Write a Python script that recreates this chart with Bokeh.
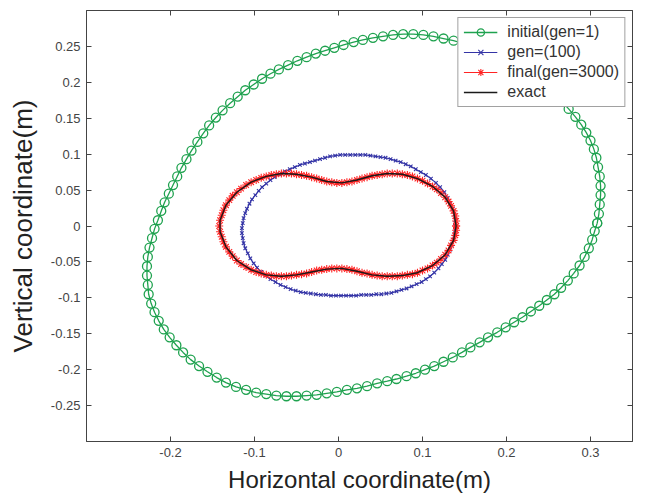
from bokeh.plotting import figure
from bokeh.models import Range1d, FixedTicker, LinearAxis, Legend, LegendItem, ColumnDataSource
from bokeh.embed import file_html
from bokeh.resources import INLINE

# ---------------- data ----------------
series_labels = ["initial(gen=1)", "gen=(100)", "final(gen=3000)", "exact"]
x_title = "Horizontal coordinate(m)"
y_title = "Vertical coordinate(m)"

x_limits = [-0.3, 0.35]
y_limits = [-0.3, 0.3]
x_ticks = [-0.2, -0.1, 0.0, 0.1, 0.2, 0.3]
x_tick_labels = ["-0.2", "-0.1", "0", "0.1", "0.2", "0.3"]
y_ticks = [0.25, 0.2, 0.15, 0.1, 0.05, 0.0, -0.05, -0.1, -0.15, -0.2, -0.25]
y_tick_labels = ["0.25", "0.2", "0.15", "0.1", "0.05", "0", "-0.05", "-0.1", "-0.15", "-0.2", "-0.25"]

initial_x = [0.308, 0.310, 0.311, 0.312, 0.312, 0.311, 0.309, 0.307, 0.304, 0.300,
             0.295, 0.289, 0.282, 0.274, 0.266, 0.257, 0.248, 0.238, 0.228, 0.217,
             0.206, 0.195, 0.184, 0.172, 0.161, 0.149, 0.137, 0.125, 0.113, 0.101,
             0.089, 0.077, 0.065, 0.053, 0.041, 0.029, 0.018, 0.006, -0.005, -0.016,
             -0.027, -0.038, -0.049, -0.060, -0.071, -0.081, -0.091, -0.101, -0.111, -0.120,
             -0.129, -0.138, -0.146, -0.154, -0.161, -0.168, -0.175, -0.181, -0.187, -0.192,
             -0.197, -0.202, -0.207, -0.211, -0.215, -0.219, -0.222, -0.225, -0.227, -0.228,
             -0.228, -0.227, -0.226, -0.223, -0.219, -0.214, -0.208, -0.201, -0.193, -0.185,
             -0.176, -0.166, -0.156, -0.145, -0.134, -0.122, -0.110, -0.098, -0.086, -0.074,
             -0.062, -0.050, -0.038, -0.026, -0.014, -0.002, 0.010, 0.022, 0.034, 0.046,
             0.058, 0.069, 0.081, 0.092, 0.103, 0.114, 0.125, 0.136, 0.147, 0.157,
             0.168, 0.178, 0.189, 0.199, 0.209, 0.219, 0.229, 0.239, 0.248, 0.257,
             0.265, 0.273, 0.280, 0.287, 0.293, 0.298, 0.302, 0.305, 0.308]
initial_y = [0.004, 0.017, 0.030, 0.043, 0.056, 0.069, 0.082, 0.095, 0.107, 0.119,
             0.130, 0.141, 0.152, 0.163, 0.173, 0.183, 0.192, 0.201, 0.209, 0.217,
             0.225, 0.232, 0.238, 0.244, 0.249, 0.254, 0.258, 0.261, 0.264, 0.266,
             0.267, 0.267, 0.266, 0.264, 0.262, 0.259, 0.256, 0.252, 0.248, 0.244,
             0.240, 0.235, 0.230, 0.224, 0.218, 0.212, 0.205, 0.197, 0.189, 0.180,
             0.171, 0.161, 0.151, 0.140, 0.129, 0.117, 0.105, 0.093, 0.081, 0.069,
             0.057, 0.045, 0.033, 0.021, 0.008, -0.004, -0.017, -0.030, -0.043, -0.056,
             -0.069, -0.082, -0.095, -0.108, -0.120, -0.132, -0.144, -0.155, -0.166, -0.176,
             -0.186, -0.195, -0.203, -0.211, -0.218, -0.224, -0.228, -0.232, -0.234, -0.236,
             -0.237, -0.237, -0.236, -0.235, -0.233, -0.231, -0.228, -0.226, -0.223, -0.219,
             -0.216, -0.213, -0.209, -0.205, -0.200, -0.195, -0.189, -0.183, -0.176, -0.169,
             -0.162, -0.155, -0.148, -0.141, -0.134, -0.127, -0.119, -0.111, -0.103, -0.095,
             -0.086, -0.076, -0.066, -0.055, -0.043, -0.031, -0.019, -0.007, 0.004]

gen100_x = [0.139, 0.139, 0.138, 0.136, 0.133, 0.130, 0.126, 0.121, 0.116, 0.110,
            0.104, 0.098, 0.092, 0.086, 0.080, 0.074, 0.068, 0.062, 0.056, 0.050,
            0.044, 0.038, 0.032, 0.026, 0.020, 0.014, 0.008, 0.002, -0.004, -0.010,
            -0.016, -0.022, -0.028, -0.034, -0.040, -0.046, -0.052, -0.058, -0.064, -0.070,
            -0.076, -0.081, -0.086, -0.091, -0.095, -0.099, -0.103, -0.106, -0.109, -0.111,
            -0.113, -0.114, -0.115, -0.115, -0.114, -0.113, -0.111, -0.108, -0.105, -0.101,
            -0.097, -0.092, -0.087, -0.081, -0.075, -0.069, -0.063, -0.057, -0.051, -0.045,
            -0.039, -0.033, -0.027, -0.021, -0.015, -0.009, -0.003, 0.003, 0.009, 0.015,
            0.021, 0.027, 0.033, 0.039, 0.045, 0.051, 0.057, 0.063, 0.069, 0.075,
            0.081, 0.087, 0.093, 0.099, 0.104, 0.109, 0.114, 0.119, 0.123, 0.127,
            0.130, 0.133, 0.135, 0.137, 0.138, 0.139, 0.139]
gen100_y = [0.000, 0.008, 0.016, 0.024, 0.032, 0.039, 0.047, 0.054, 0.060, 0.066,
            0.071, 0.075, 0.079, 0.083, 0.086, 0.089, 0.091, 0.093, 0.095, 0.096,
            0.097, 0.098, 0.099, 0.099, 0.099, 0.099, 0.099, 0.099, 0.098, 0.097,
            0.095, 0.093, 0.091, 0.089, 0.087, 0.085, 0.082, 0.079, 0.076, 0.072,
            0.068, 0.064, 0.059, 0.054, 0.049, 0.043, 0.037, 0.031, 0.024, 0.018,
            0.011, 0.004, -0.003, -0.010, -0.017, -0.024, -0.031, -0.038, -0.045, -0.052,
            -0.058, -0.064, -0.069, -0.074, -0.078, -0.082, -0.085, -0.088, -0.090, -0.092,
            -0.093, -0.094, -0.095, -0.096, -0.096, -0.097, -0.097, -0.097, -0.097, -0.097,
            -0.097, -0.096, -0.096, -0.096, -0.095, -0.095, -0.094, -0.093, -0.091, -0.089,
            -0.087, -0.084, -0.081, -0.078, -0.074, -0.070, -0.065, -0.059, -0.053, -0.047,
            -0.040, -0.033, -0.026, -0.019, -0.012, -0.006, 0.000]

final_x = [0.140, 0.140, 0.139, 0.137, 0.134, 0.131, 0.127, 0.122, 0.117, 0.112,
           0.106, 0.100, 0.094, 0.088, 0.082, 0.076, 0.070, 0.064, 0.058, 0.052,
           0.046, 0.040, 0.034, 0.028, 0.022, 0.016, 0.010, 0.004, -0.002, -0.008,
           -0.014, -0.020, -0.026, -0.032, -0.038, -0.044, -0.050, -0.056, -0.062, -0.068,
           -0.074, -0.080, -0.086, -0.092, -0.098, -0.104, -0.110, -0.116, -0.121, -0.126,
           -0.130, -0.134, -0.137, -0.139, -0.141, -0.142, -0.141, -0.139, -0.137, -0.134,
           -0.130, -0.126, -0.121, -0.116, -0.110, -0.104, -0.098, -0.092, -0.086, -0.080,
           -0.074, -0.068, -0.062, -0.056, -0.050, -0.044, -0.038, -0.032, -0.026, -0.020,
           -0.014, -0.008, -0.002, 0.004, 0.010, 0.016, 0.022, 0.028, 0.034, 0.040,
           0.046, 0.052, 0.058, 0.064, 0.070, 0.076, 0.082, 0.088, 0.094, 0.100,
           0.106, 0.112, 0.117, 0.122, 0.127, 0.131, 0.134, 0.137, 0.139, 0.140, 0.140]
final_y = [0.000, 0.007, 0.014, 0.021, 0.028, 0.034, 0.040, 0.046, 0.051, 0.055,
           0.059, 0.063, 0.066, 0.069, 0.071, 0.072, 0.073, 0.073, 0.073, 0.072,
           0.071, 0.070, 0.068, 0.066, 0.064, 0.062, 0.061, 0.060, 0.060, 0.061,
           0.062, 0.064, 0.066, 0.068, 0.070, 0.071, 0.072, 0.073, 0.073, 0.073,
           0.072, 0.071, 0.069, 0.067, 0.064, 0.061, 0.057, 0.052, 0.047, 0.042,
           0.036, 0.029, 0.022, 0.015, 0.008, 0.000, -0.008, -0.015, -0.022, -0.029,
           -0.036, -0.042, -0.048, -0.053, -0.057, -0.061, -0.064, -0.066, -0.068, -0.069,
           -0.070, -0.070, -0.070, -0.069, -0.068, -0.067, -0.066, -0.064, -0.062, -0.061,
           -0.060, -0.059, -0.059, -0.059, -0.060, -0.061, -0.063, -0.065, -0.066, -0.068,
           -0.069, -0.070, -0.070, -0.070, -0.070, -0.069, -0.068, -0.067, -0.065, -0.062,
           -0.059, -0.055, -0.051, -0.046, -0.040, -0.034, -0.027, -0.020, -0.013, -0.006, 0.000]

exact_x = [0.140, 0.137, 0.127, 0.112, 0.094, 0.076, 0.058, 0.040, 0.022, 0.004,
           -0.014, -0.032, -0.050, -0.068, -0.086, -0.104, -0.121, -0.134, -0.141, -0.141,
           -0.134, -0.121, -0.104, -0.086, -0.068, -0.050, -0.032, -0.014, 0.004, 0.022,
           0.040, 0.058, 0.076, 0.094, 0.112, 0.127, 0.137, 0.140]
exact_y = [0.000, 0.021, 0.040, 0.055, 0.066, 0.072, 0.073, 0.070, 0.064, 0.060,
           0.062, 0.068, 0.072, 0.073, 0.069, 0.061, 0.047, 0.029, 0.008, -0.008,
           -0.029, -0.048, -0.061, -0.068, -0.070, -0.068, -0.064, -0.060, -0.059, -0.063,
           -0.068, -0.070, -0.069, -0.065, -0.055, -0.040, -0.020, 0.000]

# ---------------- styles ----------------
GREEN = "#1fa24f"
BLUE = "#3434a6"
RED = "#ff2424"
BLACK = "#1a1a1a"
AXIS = "#444444"
FONT = "Liberation Sans"

p = figure(width=650, height=495, output_backend="svg", toolbar_location=None,
           x_range=Range1d(x_limits[0], x_limits[1]), y_range=Range1d(y_limits[0], y_limits[1]),
           min_border_left=86, min_border_right=18, min_border_top=10, min_border_bottom=52)
p.xgrid.visible = False
p.ygrid.visible = False
p.outline_line_color = AXIS
p.outline_line_width = 1
p.background_fill_color = "white"
p.border_fill_color = "white"

xt = FixedTicker(ticks=x_ticks)
yt = FixedTicker(ticks=y_ticks)

def style_axis(ax, show_labels):
    ax.axis_line_color = AXIS
    ax.axis_line_width = 1
    ax.major_tick_line_color = AXIS
    ax.major_tick_in = 5
    ax.major_tick_out = 0
    ax.minor_tick_line_color = None
    ax.major_label_text_font = FONT
    ax.major_label_text_color = "#444444"
    if show_labels:
        ax.major_label_text_font_size = "13px"
        ax.major_label_standoff = 6
    else:
        ax.major_label_text_font_size = "0px"
        ax.major_label_standoff = 0

xa = p.xaxis[0]
xa.ticker = xt
xa.major_label_overrides = {t: l for t, l in zip(x_ticks, x_tick_labels)}
style_axis(xa, True)
xa.axis_label = x_title
xa.axis_label_text_font = FONT
xa.axis_label_text_font_style = "normal"
xa.axis_label_text_font_size = "24px"
xa.axis_label_text_color = "#222222"
xa.axis_label_standoff = 6

ya = p.yaxis[0]
ya.ticker = yt
ya.major_label_overrides = {t: l for t, l in zip(y_ticks, y_tick_labels)}
style_axis(ya, True)
ya.axis_label = y_title
ya.axis_label_text_font = FONT
ya.axis_label_text_font_style = "normal"
ya.axis_label_text_font_size = "26px"
ya.axis_label_text_color = "#222222"
ya.axis_label_standoff = 10

top_ax = LinearAxis(ticker=xt)
style_axis(top_ax, False)
p.add_layout(top_ax, "above")
right_ax = LinearAxis(ticker=yt)
style_axis(right_ax, False)
p.add_layout(right_ax, "right")

# ---------------- glyphs ----------------
s_init = ColumnDataSource(dict(x=initial_x, y=initial_y))
s_g100 = ColumnDataSource(dict(x=gen100_x, y=gen100_y))
s_fin = ColumnDataSource(dict(x=final_x, y=final_y))
s_ex = ColumnDataSource(dict(x=exact_x, y=exact_y))

l1 = p.line("x", "y", source=s_init, line_color=GREEN, line_width=1.3)
m1 = p.scatter("x", "y", source=s_init, marker="circle", size=9, fill_color=None,
               line_color=GREEN, line_width=1.3)
l2 = p.line("x", "y", source=s_g100, line_color=BLUE, line_width=1.2)
m2 = p.scatter("x", "y", source=s_g100, marker="x", size=5, line_color=BLUE, line_width=1.1)
l3 = p.line("x", "y", source=s_fin, line_color=RED, line_width=1.2)
m3 = p.scatter("x", "y", source=s_fin, marker="asterisk", size=8, line_color=RED, line_width=1.1)
l4 = p.line("x", "y", source=s_ex, line_color=BLACK, line_width=1.4)

legend = Legend(items=[
    LegendItem(label=series_labels[0], renderers=[l1, m1]),
    LegendItem(label=series_labels[1], renderers=[l2, m2]),
    LegendItem(label=series_labels[2], renderers=[l3, m3]),
    LegendItem(label=series_labels[3], renderers=[l4]),
])
legend.location = "top_right"
legend.margin = 7
legend.padding = 5
legend.spacing = 2
legend.label_height = 18
legend.glyph_height = 18
legend.glyph_width = 34
legend.label_standoff = 10
legend.label_text_font = FONT
legend.label_text_font_size = "16px"
legend.label_text_color = "#333333"
legend.border_line_color = AXIS
legend.border_line_width = 1
legend.background_fill_color = "white"
legend.background_fill_alpha = 1.0
p.add_layout(legend, "center")

open("out.html", "w").write(file_html(p, INLINE))
